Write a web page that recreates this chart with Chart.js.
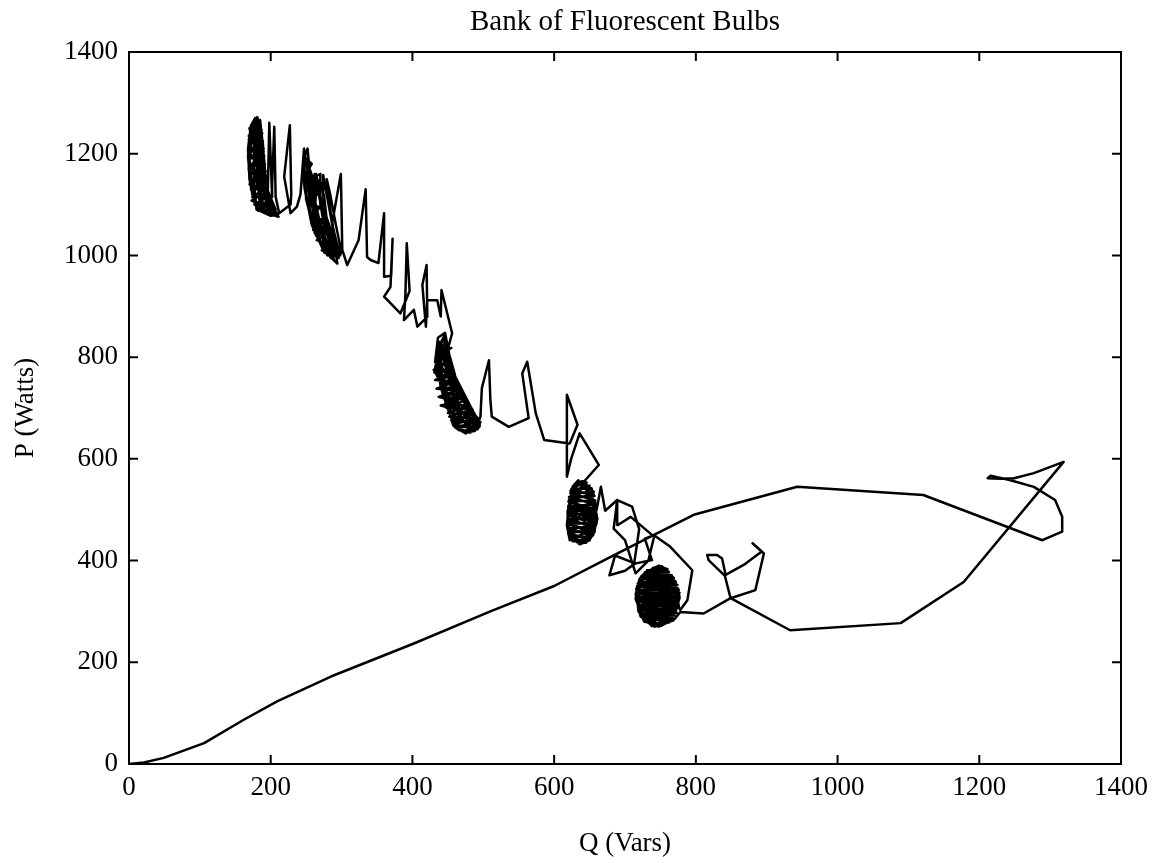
<!DOCTYPE html>
<html>
<head>
<meta charset="utf-8">
<script src="https://cdn.jsdelivr.net/npm/chart.js@4.4.0/dist/chart.umd.min.js"></script>
<style>
html,body{margin:0;padding:0;background:#fff;}
#wrap{width:1156px;height:863px;}
</style>
</head>
<body>
<div id="wrap"><canvas id="c" width="1156" height="863"></canvas></div>
<script>
const chartTitle = 'Bank of Fluorescent Bulbs';
const xAxisLabel = 'Q (Vars)';
const yAxisLabel = 'P (Watts)';
const xTicks = [0, 200, 400, 600, 800, 1000, 1200, 1400];
const yTicks = [0, 200, 400, 600, 800, 1000, 1200, 1400];

// start-up transient: [Q (Vars), P (Watts)]
const startup = [
[0,0],[21,3],[49,12],[106,41],[162,87],[209,123],[285,172],[402,237],[510,300],[600,350],[675,404],[736,447],[797,490],[943,545],[1121,529],[1289,440],[1317,457],[1317,486],[1307,519],[1277,545],[1244,558],[1216,567],[1212,562],[1230,561],[1249,562],[1277,572],[1319,594],[1178,358],[1089,277],[933,263],[849,326],[884,342],[896,414],[880,434],[893,418],[868,392],[842,372],[837,404],[830,411],[816,411],[818,401],[841,370],[849,326],[811,296],[778,299]
];
// settled cluster around Q~745
const clusterE = [
[770,285],[748,270],[726,284],[716,322],[720,362],[740,386],[763,372],[775,335],
[772,300],[752,274],[729,282],[718,318],[722,358],[743,381],[766,366],[777,326],
[769,292],[745,272],[723,292],[715,334],[725,372],[748,390],[768,360],[774,318],
[762,282],[738,271],[719,300],[716,345],[731,380],[755,386],[771,352],[776,310],
[735,275],[762,278],[724,290],[770,292],[719,305],[774,307],[717,320],[776,322],[716,335],[777,337],[717,350],[774,352],[721,365],[769,366],[728,377],[762,378],[740,386],[752,387],
[760,383],[725,372],[771,360],[719,357],[775,345],[716,342],[777,330],[716,328],[775,315],[718,313],[772,300],[722,298],[767,285],[729,284],[752,272],
[742,271],[768,282],[721,294],[773,297],[718,310],[775,312],[716,325],[777,327],[716,340],[776,342],[718,355],[772,357],[723,369],[766,371],[731,381],[757,383],
[746,375],[760,362],[766,330],[760,298],[746,285],[732,298],[726,330],[732,362],[746,360],[755,351],[759,330],[755,309],[746,300],[737,309],[733,330],[737,351],
[746,345],[751,340],[753,330],[751,320],[746,315],[741,320],[739,330],[741,340],
[750,272],[727,280],[715,325],[721,365],[744,388],[767,368],[777,330],[767,288],
[742,270],[722,290],[717,338],[728,376],[752,389],[770,356],[775,315],[760,279],
[728,300],[760,360],[735,355],[762,305],[742,320],[752,350],[738,300],[766,334]
];
const stepED = [
[778,303],[788,322],[795,381],[764,427],[741,450],[728,443],[738,401],[714,394],[700,380],[678,371],[686,410],[713,395],[720,462],[710,506],[689,519],[684,463],[700,440],[715,375],[733,400],[741,447],[708,486],[690,470],[689,519],[672,498],[666,545],[660,500],[650,470],[640,452]
];
const clusterD = [
[622,440],[618,470],[621,510],[626,545],[634,558],[645,540],[656,505],[658,468],[650,440],[636,432],
[620,452],[619,495],[624,532],[633,555],[646,548],[657,512],[660,474],[652,445],[638,434],[626,444],
[626,438],[650,440],[620,455],[656,458],[619,472],[659,475],[619,490],[660,492],[620,508],[659,510],[621,525],[657,527],[624,540],[653,542],[630,552],[646,553],
[640,556],[656,535],[623,533],[658,518],[620,516],[660,500],[619,498],[659,482],[619,482],[657,465],[620,464],[653,448],[623,446],[645,435],
[632,436],[655,452],[621,461],[658,470],[619,478],[660,486],[620,494],[659,504],[620,502],[658,514],[621,520],[656,530],[623,537],[650,547],[628,549],
[619,478],[622,520],[630,550],[643,552],[655,520],[661,482],[655,450],[640,436],[627,440],[620,462],
[620,505],[628,540],[639,556],[651,532],[659,492],[657,456],[644,436],[630,438],[621,458],[619,490],
[640,480],[652,520],[628,470],[648,455],[635,510],[655,490],[630,500]
];
const stepDC = [
[640,552],[663,588],[636,650],[624,600],[618,565],[618,726],[633,667],[622,630],[586,637],[574,690],[562,791],[555,768],[564,680],[536,663],[512,683],[510,716],[508,794],[498,739],[496,683]
];
const clusterC = [
[490,660],[478,652],[462,660],[452,690],[440,740],[434,800],[438,830],[446,800],[458,750],[476,705],[492,680],
[488,656],[470,654],[456,675],[446,720],[436,780],[440,815],[450,780],[466,730],[484,695],[495,668],
[437,825],[447,818],[436,800],[450,795],[437,775],[454,770],[439,750],[462,748],[443,728],[470,726],[446,708],[480,705],[450,690],[488,688],[455,675],[494,673],[461,662],[495,664],[470,654],[488,655],
[486,660],[457,668],[494,680],[452,683],[485,697],[448,700],[476,716],[444,720],[466,738],[441,742],[458,760],[438,765],[452,783],[436,790],[447,808],[438,815],
[432,790],[436,838],[446,848],[452,805],[460,765],[463,722],[456,702],[442,735],[433,785],
[431,770],[458,775],[432,755],[461,752],[434,738],[462,735],[437,722],[462,712],[440,705],[459,698],
[445,842],[434,812],[455,818],[433,800],[450,760],[430,775],
[482,652],[464,658],[452,700],[442,760],[437,820],[444,835],[452,790],[470,720],[488,688],[494,662],
[475,650],[458,665],[448,710],[440,770],[441,810],[455,770],[474,715],[490,682],[492,658],[470,655],
[456,672],[447,725],[438,790],[442,825],[450,765],[462,715],[480,690],[496,672],[486,654],[466,656],
[452,690],[444,745],[436,805],[446,812],[460,740],[478,700],[490,676],[480,652],[460,662],[450,705],
[463,700],[485,672],[470,690],[458,720],[482,665],[466,680]
];
const stepCB = [
[440,817],[451,821],[456,847],[441,932],[440,880],[435,912],[421,912],[419,860],[414,942],[420,981],[421,879],[407,860],[402,893],[388,873],[390,919],[392,1024],[396,930],[383,886],[360,919],[369,938],[372,1033],[370,960],[360,958],[360,1083],[352,985],[341,991],[336,997],[334,1130],[324,1030],[308,981],[301,1011],[299,1160],[287,1066],[294,984]
];
const clusterB = [
[275,1010],[262,1060],[258,1120],[262,1160],[268,1120],[275,1060],[290,1000],
[298,1000],[288,1050],[282,1110],[279,1150],[284,1120],[292,1060],[300,1005],
[285,995],[268,1030],[255,1090],[252,1150],[256,1165],[262,1110],[272,1050],[287,1005],
[280,1000],[262,1045],[250,1110],[247,1190],[252,1210],[256,1150],[266,1070],[282,1010],
[294,1000],[280,1060],[275,1120],[274,1158],[279,1120],[287,1060],[297,1002],
[250,1190],[258,1180],[249,1160],[262,1150],[250,1130],[265,1120],[253,1100],[270,1095],[256,1075],[275,1070],[260,1050],[280,1045],[265,1030],[285,1020],[272,1010],[292,1000],
[276,1005],[258,1060],[248,1130],[245,1175],[251,1150],[260,1090],[274,1030],[290,990],
[283,1000],[265,1040],[258,1100],[262,1155],[270,1160],[270,1100],[280,1040],[296,995],
[288,1000],[270,1025],[262,1080],[265,1150],[273,1140],[276,1080],[285,1030],[298,1000],
[286,1010],[268,1050],[260,1120],[264,1160],[271,1110],[280,1050]
];
const stepBA = [
[280,1040],[262,1080],[247,1210],[242,1120],[237,1096],[228,1083],[219,1155],[227,1256],[229,1120],[228,1100],[212,1083],[207,1115],[205,1253],[202,1140],[202,1115],[198,1261],[196,1130],[190,1085]
];
const clusterA = [
[178,1100],[170,1150],[168,1210],[172,1255],[178,1270],[183,1240],[186,1180],[190,1120],[200,1090],
[195,1082],[180,1095],[171,1140],[169,1200],[173,1250],[180,1268],[186,1230],[189,1160],[194,1110],[205,1085],
[170,1250],[186,1255],[169,1235],[188,1240],[169,1220],[189,1225],[168,1205],[190,1210],[168,1190],[191,1195],[169,1175],[192,1180],[170,1160],[193,1165],[171,1145],[195,1150],[172,1130],[196,1135],[174,1115],[198,1118],[177,1100],[200,1102],[182,1088],[204,1090],
[198,1080],[182,1092],[173,1130],[170,1180],[174,1240],[183,1265],[189,1220],[192,1150],[197,1105],[210,1080],
[200,1078],[184,1088],[174,1120],[169,1170],[171,1230],[177,1262],[185,1255],[190,1190],[195,1130],[207,1090],
[196,1095],[173,1108],[194,1125],[170,1140],[193,1157],[169,1172],[191,1187],[168,1200],[189,1215],[169,1228],[187,1247],[171,1245],[182,1268],
[196,1085],[179,1098],[171,1145],[168,1195],[172,1245],[181,1272],[187,1245],[190,1175],[196,1115],[204,1082],
[191,1088],[177,1105],[170,1160],[169,1220],[175,1260],[184,1262],[188,1205],[192,1140],[199,1098],[211,1076],
[180,1090],[176,1150],[177,1230],[181,1262],[183,1200],[186,1120],[192,1085],[184,1110],[180,1180],[178,1250],[185,1240],[188,1150],[196,1095],
[197,1080],[183,1090],[174,1125],[170,1175],[173,1235],[179,1266],[186,1240],[191,1170],[195,1120],[206,1086],
[187,1092],[176,1110],[171,1165],[170,1215],[176,1258],[185,1266],[189,1215],[193,1150],[198,1100],[208,1080],
[188,1150],[178,1200],[186,1110],[174,1180],[190,1205],[180,1130]
];

const trace = [].concat(startup, clusterE, stepED, clusterD, stepDC, clusterC, stepCB, clusterB, stepBA, clusterA)
  .map(([q, p]) => ({x: q, y: p}));

const serif = "'Liberation Serif', 'Times New Roman', serif";

const frameTicks = {
  id: 'frameTicks',
  afterDatasetsDraw(chart) {
    const {ctx, chartArea: a, scales: {x, y}} = chart;
    const L = 9;
    ctx.save();
    ctx.strokeStyle = '#000';
    ctx.lineWidth = 2;
    ctx.strokeRect(a.left, a.top, a.right - a.left, a.bottom - a.top);
    ctx.beginPath();
    xTicks.forEach(v => {
      const px = x.getPixelForValue(v);
      ctx.moveTo(px, a.bottom); ctx.lineTo(px, a.bottom - L);
      ctx.moveTo(px, a.top); ctx.lineTo(px, a.top + L);
    });
    yTicks.forEach(v => {
      const py = y.getPixelForValue(v);
      ctx.moveTo(a.left, py); ctx.lineTo(a.left + L, py);
      ctx.moveTo(a.right, py); ctx.lineTo(a.right - L, py);
    });
    ctx.stroke();
    ctx.restore();
  }
};

new Chart(document.getElementById('c'), {
  type: 'scatter',
  data: {
    datasets: [{
      data: trace,
      showLine: true,
      borderColor: '#000',
      backgroundColor: '#000',
      borderWidth: 2.5,
      borderJoinStyle: 'round',
      borderCapStyle: 'round',
      pointRadius: 0,
      tension: 0,
      fill: false
    }]
  },
  options: {
    responsive: false,
    animation: false,
    devicePixelRatio: 1,
    layout: {padding: {left: 0, right: 35, top: 0, bottom: 0}},
    plugins: {
      legend: {display: false},
      tooltip: {enabled: false},
      title: {
        display: true,
        fullSize: false,
        text: chartTitle,
        color: '#000',
        font: {family: serif, size: 29, weight: 'normal', lineHeight: 1.2},
        padding: {top: 5, bottom: 12.2}
      }
    },
    scales: {
      x: {
        type: 'linear',
        min: 0, max: 1400,
        afterBuildTicks: s => { s.ticks = xTicks.map(v => ({value: v})); },
        ticks: {color: '#000', font: {family: serif, size: 27}, padding: 8, maxRotation: 0, callback: v => String(v)},
        grid: {display: false, drawTicks: false},
        border: {display: false},
        title: {display: true, text: xAxisLabel, color: '#000', font: {family: serif, size: 27, lineHeight: 1.2}, padding: {top: 0, bottom: 3}},
        afterFit: s => { s.height = 99; }
      },
      y: {
        type: 'linear',
        min: 0, max: 1400,
        afterBuildTicks: s => { s.ticks = yTicks.map(v => ({value: v})); },
        ticks: {color: '#000', font: {family: serif, size: 27}, padding: 11, callback: v => String(v)},
        grid: {display: false, drawTicks: false},
        border: {display: false},
        title: {display: true, text: yAxisLabel, color: '#000', font: {family: serif, size: 27, lineHeight: 1.2}, padding: {top: 10, bottom: 0}},
        afterFit: s => { s.width = 129; }
      }
    }
  },
  plugins: [frameTicks]
});
</script>
</body>
</html>
